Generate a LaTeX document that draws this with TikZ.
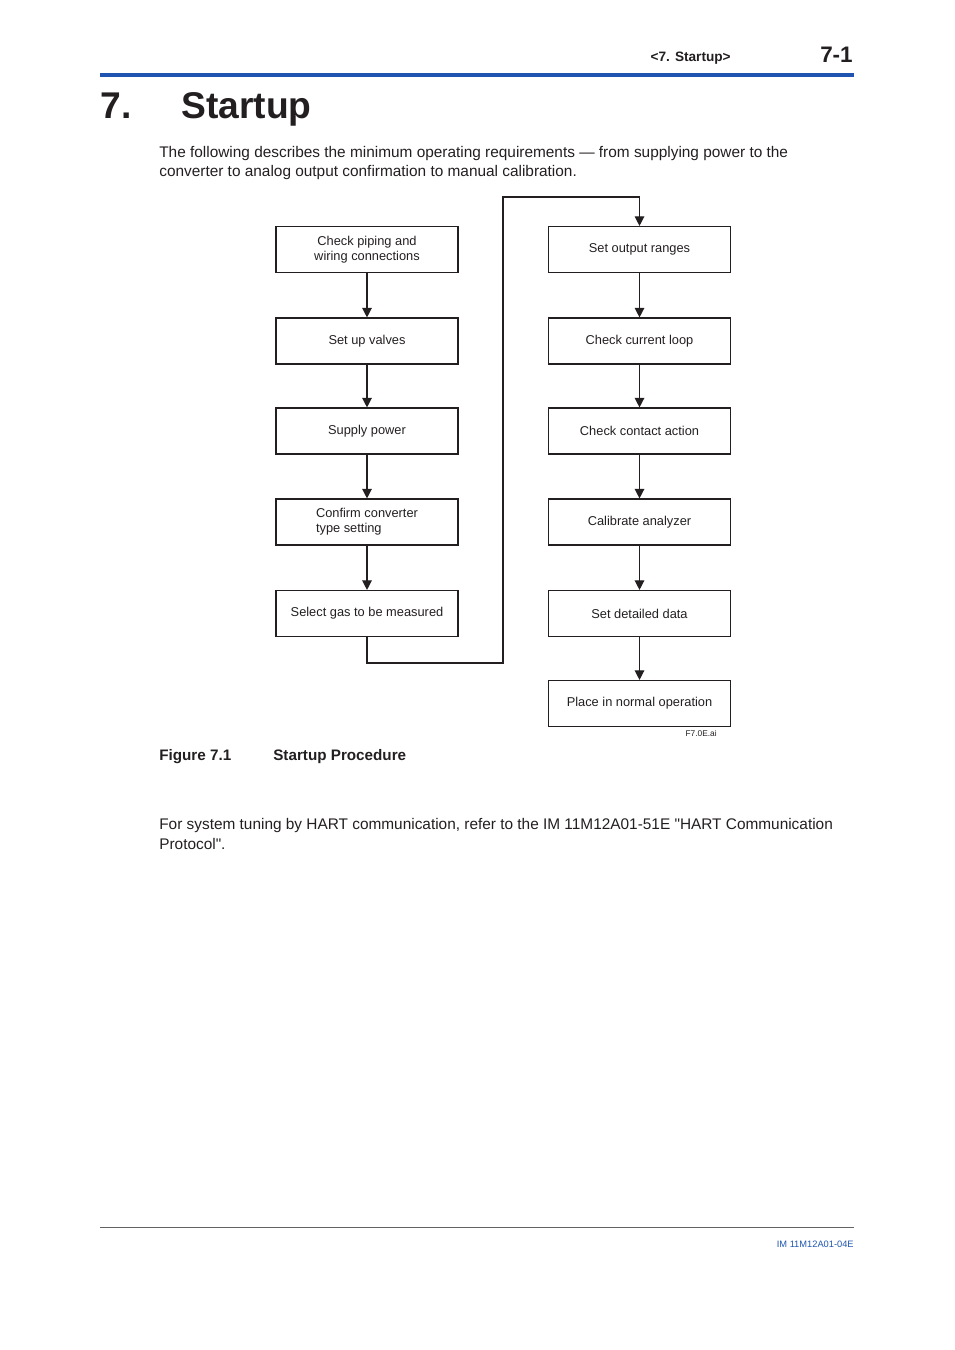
\documentclass[tikz,border=0pt]{standalone}
\usepackage{fontspec}
\setmainfont{Liberation Sans}[Ligatures=TeXOff]
\usetikzlibrary{arrows.meta}
\definecolor{ink}{HTML}{231F20}
\definecolor{yblue}{HTML}{1F55B0}
\tikzset{
  stepbox/.style={draw=ink, line width=0.7pt, minimum width=182*0.6237pt, minimum height=46*0.6237pt, inner sep=0pt, align=center, font=\fontsize{8}{9.5}\selectfont, text=ink},
  flow/.style={draw=ink, line width=0.8pt, -{Triangle[length=6pt,width=6pt]}},
  bodytext/.style={anchor=base west, font=\fontsize{9.6}{12.45}\selectfont, text=ink, inner sep=0pt, align=left},
}
\begin{document}
\begin{tikzpicture}[x=0.6237pt,y=-0.6237pt]
\useasboundingbox (0,0) rectangle (954,1350);
% header
\node[anchor=base east, font=\bfseries\fontsize{8.5}{10}\selectfont, text=ink, inner sep=0pt] (hdr) at (731,62) {<7. Startup>};
\node[anchor=base east, font=\bfseries\fontsize{14}{16}\selectfont, text=ink, inner sep=0pt] (pg) at (853,63) {7-1};
\draw[yblue, line width=2pt] (100,75) -- (854,75);
% title
\node[anchor=base west, font=\bfseries\fontsize{23.2}{26}\selectfont, text=ink, inner sep=0pt] (tnum) at (100,119) {7.};
\node[anchor=base west, font=\bfseries\fontsize{23.2}{26}\selectfont, text=ink, inner sep=0pt] (ttl) at (181,119) {Startup};
% intro
\node[bodytext] (intro) at (159,177) {The following describes the minimum operating requirements — from supplying power to the\\converter to analog output confirmation to manual calibration.};
% left column
\node[stepbox] (a1) at (367,249.5) {Check piping and\\wiring connections};
\node[stepbox] (a2) at (367,341) {Set up valves};
\node[stepbox] (a3) at (367,431) {Supply power};
\node[stepbox, align=left] (a4) at (367,522) {Confirm converter\\type setting};
\node[stepbox] (a5) at (367,613.5) {Select gas to be measured};
% right column
\node[stepbox] (b1) at (639.5,249.5) {Set output ranges};
\node[stepbox] (b2) at (639.5,341) {Check current loop};
\node[stepbox] (b3) at (639.5,431) {Check contact action};
\node[stepbox] (b4) at (639.5,522) {Calibrate analyzer};
\node[stepbox] (b5) at (639.5,613.5) {Set detailed data};
\node[stepbox] (b6) at (639.5,703.5) {Place in normal operation};
\draw[flow] (a1) -- (a2);
\draw[flow] (a2) -- (a3);
\draw[flow] (a3) -- (a4);
\draw[flow] (a4) -- (a5);
\draw[flow] (b1) -- (b2);
\draw[flow] (b2) -- (b3);
\draw[flow] (b3) -- (b4);
\draw[flow] (b4) -- (b5);
\draw[flow] (b5) -- (b6);
\coordinate (c2) at (503,663);
\coordinate (c3) at (503,197);
\draw[flow] (a5.south) |- (c2) -- (c3) -| (b1.north);
\node[anchor=base east, font=\fontsize{5.2}{6}\selectfont, text=ink, inner sep=0pt] (fn) at (717,736) {F7.0E.ai};
% caption
\node[anchor=base west, font=\bfseries\fontsize{9.5}{12}\selectfont, text=ink, inner sep=0pt] (cap1) at (159,760) {Figure 7.1};
\node[anchor=base west, font=\bfseries\fontsize{9.5}{12}\selectfont, text=ink, inner sep=0pt] (cap2) at (273,760) {Startup Procedure};
% second paragraph
\node[bodytext] (para2) at (159,849) {For system tuning by HART communication, refer to the IM 11M12A01-51E "HART Communication\\Protocol".};
% footer
\draw[ink!70, line width=0.5pt] (100,1227) -- (854,1227);
\node[anchor=base east, font=\fontsize{5.8}{6.5}\selectfont, text=yblue, inner sep=0pt] (ft) at (854,1247) {IM 11M12A01-04E};
\end{tikzpicture}
\end{document}
